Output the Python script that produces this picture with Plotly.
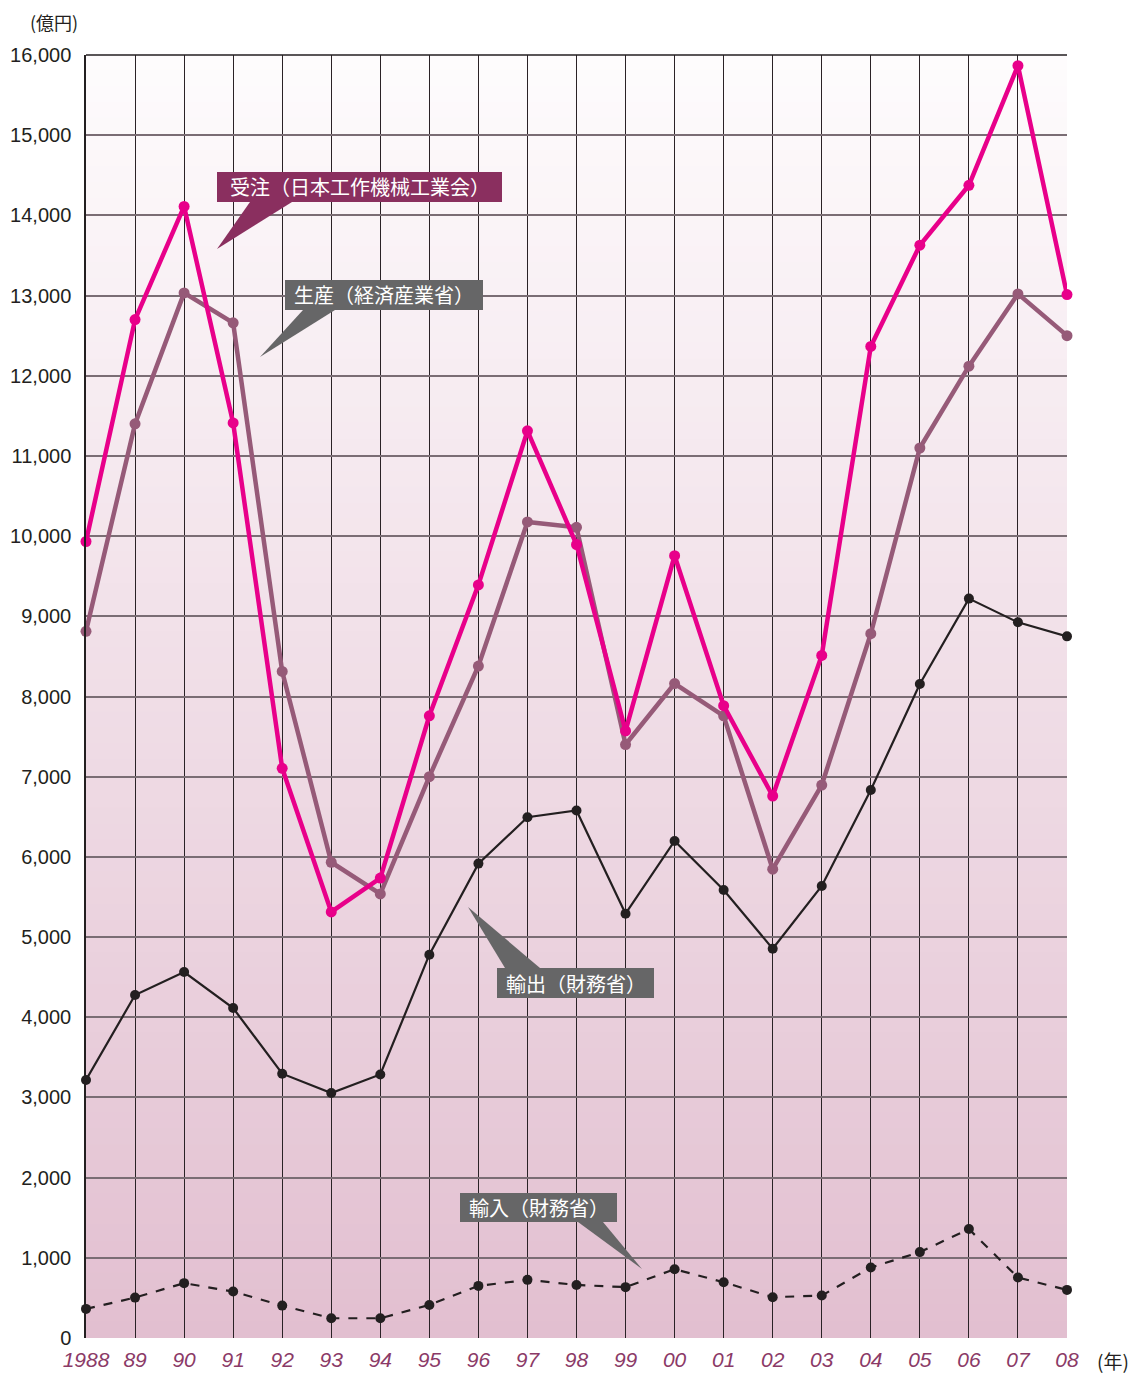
import plotly.graph_objects as go

years = list(range(1988, 2009))
year_labels = ["1988", "89", "90", "91", "92", "93", "94", "95", "96", "97", "98",
               "99", "00", "01", "02", "03", "04", "05", "06", "07", "08"]

orders = [9933, 12700, 14112, 11411, 7105, 5313, 5735, 7759, 9392, 11313, 9895,
          7570, 9756, 7886, 6759, 8512, 12366, 13628, 14375, 15867, 13012]
production = [8813, 11400, 13033, 12660, 8312, 5933, 5538, 7000, 8380, 10177, 10110,
              7401, 8161, 7759, 5846, 6896, 8783, 11099, 12120, 13021, 12500]
exports = [3217, 4277, 4564, 4115, 3296, 3055, 3286, 4780, 5916, 6494, 6578,
           5291, 6199, 5587, 4855, 5637, 6834, 8155, 9221, 8925, 8750]
imports = [363, 504, 684, 579, 404, 246, 246, 412, 650, 725, 662,
           634, 858, 696, 509, 529, 879, 1071, 1359, 754, 600]

y_ticks = list(range(0, 16001, 1000))

# page has an 8px body margin; size the figure so the plot area lands at the target pixels
OFF = 8
W, H = 1143 - OFF, 1375 - OFF
L, R, T, B = 86, 1067, 55, 1338   # plot area in page pixels


def px(x):
    return (x - L) / (R - L)


def py(y):
    return (B - y) / (B - T)


fig = go.Figure()

fig.add_trace(go.Scatter(x=years, y=imports, mode="lines+markers", name="輸入",
                         line=dict(color="#231f20", width=2.2, dash="dash"),
                         marker=dict(size=10, color="#231f20"), cliponaxis=False))
fig.add_trace(go.Scatter(x=years, y=exports, mode="lines+markers", name="輸出",
                         line=dict(color="#231f20", width=2.2),
                         marker=dict(size=10, color="#231f20"), cliponaxis=False))
fig.add_trace(go.Scatter(x=years, y=production, mode="lines+markers", name="生産",
                         line=dict(color="#965a78", width=4.5),
                         marker=dict(size=11, color="#965a78"), cliponaxis=False))
fig.add_trace(go.Scatter(x=years, y=orders, mode="lines+markers", name="受注",
                         line=dict(color="#e8008a", width=4.5),
                         marker=dict(size=11, color="#e8008a"), cliponaxis=False))

shapes = []
# gradient background
N = 80
top_c = (254, 252, 253)
bot_c = (226, 191, 208)
for i in range(N):
    f = (i + 0.5) / N
    c = tuple(round(top_c[k] + (bot_c[k] - top_c[k]) * f) for k in range(3))
    shapes.append(dict(type="rect", xref="paper", yref="paper",
                       x0=0, x1=1, y0=1 - (i + 1) / N, y1=1 - i / N + 0.001,
                       fillcolor="rgb(%d,%d,%d)" % c, line=dict(width=0), layer="below"))
# top border
shapes.append(dict(type="line", xref="paper", yref="paper", x0=0, x1=1, y0=1, y1=1,
                   line=dict(color="#231f20", width=1.5), layer="above"))

callouts = [
    ("受注（日本工作機械工業会）", (217, 172, 502, 202), [(292, 202), (217, 249), (250, 202)], "#8a2f5f"),
    ("生産（経済産業省）", (285, 280, 483, 310), [(335, 310), (260, 357), (303, 310)], "#666667"),
    ("輸出（財務省）", (497, 968, 654, 998), [(505, 968), (468, 907), (540, 968)], "#666667"),
    ("輸入（財務省）", (460, 1193, 617, 1222), [(578, 1222), (642, 1269), (603, 1222)], "#666667"),
]

annotations = []
for text, (x0, y0, x1, y1), tri, col in callouts:
    shapes.append(dict(type="rect", xref="paper", yref="paper",
                       x0=px(x0), x1=px(x1), y0=py(y1), y1=py(y0),
                       fillcolor=col, line=dict(width=0), layer="above"))
    path = "M %f,%f L %f,%f L %f,%f Z" % (px(tri[0][0]), py(tri[0][1]),
                                          px(tri[1][0]), py(tri[1][1]),
                                          px(tri[2][0]), py(tri[2][1]))
    shapes.append(dict(type="path", xref="paper", yref="paper", path=path,
                       fillcolor=col, line=dict(width=0), layer="above"))
    annotations.append(dict(text=text, xref="paper", yref="paper",
                            x=px((x0 + x1) / 2), y=py((y0 + y1) / 2),
                            xanchor="center", yanchor="middle", showarrow=False,
                            font=dict(family="Noto Sans CJK JP", size=20, color="white")))

annotations.append(dict(text="(億円)", xref="paper", yref="paper", x=px(54), y=py(22),
                        xanchor="center", yanchor="middle", showarrow=False,
                        font=dict(family="Noto Sans CJK JP", size=18, color="#231f20")))
annotations.append(dict(text="(年)", xref="paper", yref="paper", x=px(1113), y=py(1360),
                        xanchor="center", yanchor="middle", showarrow=False,
                        font=dict(family="Noto Sans CJK JP", size=19, color="#231f20")))

fig.update_layout(
    width=W, height=H,
    margin=dict(l=L - OFF, r=W - (R - OFF), t=T - OFF, b=H - (B - OFF), pad=0),
    paper_bgcolor="white", plot_bgcolor="white",
    showlegend=False,
    shapes=shapes, annotations=annotations,
    xaxis=dict(range=[1988, 2008], tickmode="array", tickvals=years, ticktext=year_labels,
               showgrid=True, gridcolor="#2a2226", gridwidth=1, zeroline=False,
               showline=False, ticks="outside", ticklen=3, tickcolor="rgba(0,0,0,0)",
               automargin=False,
               tickfont=dict(family="Liberation Sans, Arial", size=21, color="#8b3a67",
                             style="italic")),
    yaxis=dict(range=[0, 16000], tickmode="array", tickvals=y_ticks, tickformat=",",
               showgrid=True, gridcolor="#7a6d74", gridwidth=1.5, zeroline=False,
               showline=True, linecolor="#231f20", linewidth=1.5,
               ticks="outside", ticklen=9, tickcolor="rgba(0,0,0,0)",
               automargin=False,
               tickfont=dict(family="Liberation Sans, Arial", size=20, color="#231f20")),
)

fig.write_html("out.html")
